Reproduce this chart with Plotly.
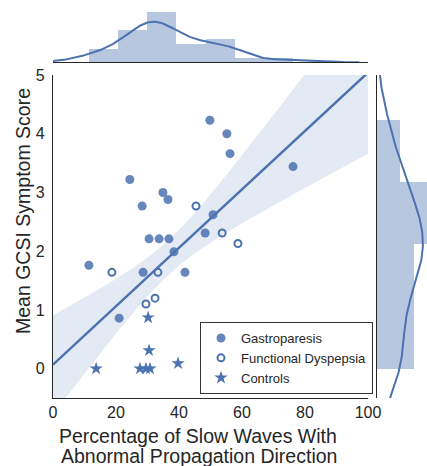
import numpy as np
import plotly.graph_objects as go

# ---------------- data ----------------
gp_x = [11.4, 24.4, 28.3, 34.9, 36.5, 30.5, 33.7, 36.8, 38.4, 28.6, 41.9, 21.0,
        49.8, 55.2, 56.2, 76.2, 50.8, 48.3]
gp_y = [1.76, 3.22, 2.77, 3.00, 2.88, 2.21, 2.21, 2.21, 1.99, 1.64, 1.64, 0.86,
        4.23, 4.00, 3.66, 3.44, 2.62, 2.31]
fd_x = [18.7, 33.3, 45.4, 53.7, 58.7, 29.5, 32.4]
fd_y = [1.64, 1.64, 2.77, 2.31, 2.13, 1.10, 1.20]
ct_x = [30.2, 30.5, 13.7, 27.6, 29.5, 30.8, 39.7]
ct_y = [0.87, 0.31, 0.00, 0.00, 0.00, 0.00, 0.09]

group_names = ["Gastroparesis", "Functional Dyspepsia", "Controls"]
x_ticks = [0, 20, 40, 60, 80, 100]
y_ticks = [0, 1, 2, 3, 4, 5]
x_title = ["Percentage of Slow Waves With", "Abnormal Propagation Direction"]
y_title = "Mean GCSI Symptom Score"

# ---------------- derived quantities ----------------
all_x = np.array(gp_x + fd_x + ct_x, dtype=float)
all_y = np.array(gp_y + fd_y + ct_y, dtype=float)
n = len(all_x)

slope, intercept = np.polyfit(all_x, all_y, 1)
grid = np.linspace(0, 100, 201)
pred = intercept + slope * grid
resid = all_y - (intercept + slope * all_x)
s = np.sqrt(np.sum(resid ** 2) / (n - 2))
xbar = all_x.mean()
sxx = np.sum((all_x - xbar) ** 2)
tval = 1.65
se = s * np.sqrt(1.0 / n + (grid - xbar) ** 2 / sxx)
upper = pred + tval * se
lower = pred - tval * se


def kde(data, pts):
    bw = data.std(ddof=1) * len(data) ** (-0.2)
    z = (pts[:, None] - data[None, :]) / bw
    return np.exp(-0.5 * z ** 2).sum(axis=1) / (len(data) * bw * np.sqrt(2 * np.pi)), bw


hx, ex = np.histogram(all_x, bins=7, density=True)
hy, ey = np.histogram(all_y, bins=4, density=True)
bwx = ex[1] - ex[0]
bwy = ey[1] - ey[0]

_, bandx = kde(all_x, np.array([0.0]))
gx = np.linspace(all_x.min() - 3 * bandx, all_x.max() + 3 * bandx, 300)
kx, _ = kde(all_x, gx)
_, bandy = kde(all_y, np.array([0.0]))
gy = np.linspace(all_y.min() - 3 * bandy, all_y.max() + 3 * bandy, 300)
ky, _ = kde(all_y, gy)

# ---------------- styling ----------------
BLUE = "#4C72B0"
BAR = "rgba(76,114,176,0.4)"
BAND = "rgba(76,114,176,0.15)"
TXT = "#262626"
FONT = "Liberation Sans, Arial, sans-serif"

W, H = 427, 466
ML, MR, MT, MB = 53, 0, 0, 68
PW, PH = W - ML - MR, H - MT - MB

def px_x(p):
    return (p - ML) / PW

def px_y(p):
    return (H - MB - p) / PH

fig = go.Figure()

# CI band
fig.add_trace(go.Scatter(x=grid, y=lower, mode="lines", line=dict(width=0),
                         hoverinfo="skip", showlegend=False, xaxis="x", yaxis="y"))
fig.add_trace(go.Scatter(x=grid, y=upper, mode="lines", line=dict(width=0),
                         fill="tonexty", fillcolor=BAND, hoverinfo="skip",
                         showlegend=False, xaxis="x", yaxis="y"))

# points
fig.add_trace(go.Scatter(x=gp_x, y=gp_y, mode="markers", name=group_names[0],
                         marker=dict(symbol="circle", size=9, color=BLUE, opacity=0.85,
                                     line=dict(width=0)),
                         xaxis="x", yaxis="y"))
fig.add_trace(go.Scatter(x=fd_x, y=fd_y, mode="markers", name=group_names[1],
                         marker=dict(symbol="circle-open", size=7, color=BLUE,
                                     line=dict(width=2, color=BLUE)),
                         xaxis="x", yaxis="y"))
fig.add_trace(go.Scatter(x=ct_x, y=ct_y, mode="markers", name=group_names[2],
                         marker=dict(symbol="star", size=10, color=BLUE, line=dict(width=0)),
                         xaxis="x", yaxis="y"))

# regression line
fig.add_trace(go.Scatter(x=grid, y=pred, mode="lines", line=dict(color=BLUE, width=2.5),
                         hoverinfo="skip", showlegend=False, xaxis="x", yaxis="y"))

# top marginal
fig.add_trace(go.Bar(x=(ex[:-1] + ex[1:]) / 2, y=hx, width=bwx, marker=dict(color=BAR, line=dict(width=0)),
                     showlegend=False, xaxis="x2", yaxis="y2"))
fig.add_trace(go.Scatter(x=gx, y=kx, mode="lines", line=dict(color=BLUE, width=2),
                         showlegend=False, xaxis="x2", yaxis="y2"))

# right marginal
fig.add_trace(go.Bar(y=(ey[:-1] + ey[1:]) / 2, x=hy, width=bwy, orientation="h",
                     marker=dict(color=BAR, line=dict(width=0)),
                     showlegend=False, xaxis="x3", yaxis="y3"))
fig.add_trace(go.Scatter(x=ky, y=gy, mode="lines", line=dict(color=BLUE, width=2),
                         showlegend=False, xaxis="x3", yaxis="y3"))

main_x_dom = [0, px_x(368)]
main_y_dom = [0, px_y(75)]
top_dom = [px_y(62.3), 1]
right_dom = [px_x(377), 1]

px_per_count = 4.58
top_range = (62.3) / (px_per_count * n * bwx)
right_range = (W - 377) / (px_per_count * n * bwy)

axis_common = dict(showgrid=False, zeroline=False, ticks="", showline=True,
                   linecolor=TXT, linewidth=1.3, automargin=False)

fig.update_layout(
    template="none",
    width=W, height=H,
    margin=dict(l=ML, r=MR, t=MT, b=MB, autoexpand=False),
    paper_bgcolor="white", plot_bgcolor="white",
    font=dict(family=FONT, color=TXT),
    bargap=0,
    showlegend=True,
    xaxis=dict(domain=main_x_dom, range=[0, 100], tickvals=x_ticks,
               tickfont=dict(size=16), anchor="y", ticklabelstandoff=0, **axis_common),
    yaxis=dict(domain=main_y_dom, range=[-0.5, 5], tickvals=y_ticks,
               tickfont=dict(size=16), anchor="x", ticklabelstandoff=4, **axis_common),
    xaxis2=dict(domain=main_x_dom, matches="x", anchor="y2", showticklabels=False,
                **axis_common),
    yaxis2=dict(domain=top_dom, range=[0, top_range], visible=False, anchor="x2"),
    xaxis3=dict(domain=right_dom, range=[0, right_range], visible=False, anchor="y3"),
    yaxis3=dict(domain=main_y_dom, matches="y", anchor="x3", showticklabels=False,
                **axis_common),
    legend=dict(x=px_x(200), y=px_y(394), xanchor="left", yanchor="bottom",
                bgcolor="white", bordercolor="#333333", borderwidth=1,
                traceorder="normal", itemwidth=30,
                font=dict(size=13, family=FONT, color=TXT), tracegroupgap=0),
    annotations=[
        dict(text=x_title[0], xref="paper", yref="paper", x=px_x(198), y=px_y(435.5),
             xanchor="center", yanchor="middle", showarrow=False, font=dict(size=19.5)),
        dict(text=x_title[1], xref="paper", yref="paper", x=px_x(199), y=px_y(455.5),
             xanchor="center", yanchor="middle", showarrow=False, font=dict(size=19.5)),
        dict(text=y_title, xref="paper", yref="paper", x=px_x(23), y=px_y(211),
             xanchor="center", yanchor="middle", textangle=-90, showarrow=False,
             font=dict(size=19.5)),
    ],
)

fig.write_html("out.html")
